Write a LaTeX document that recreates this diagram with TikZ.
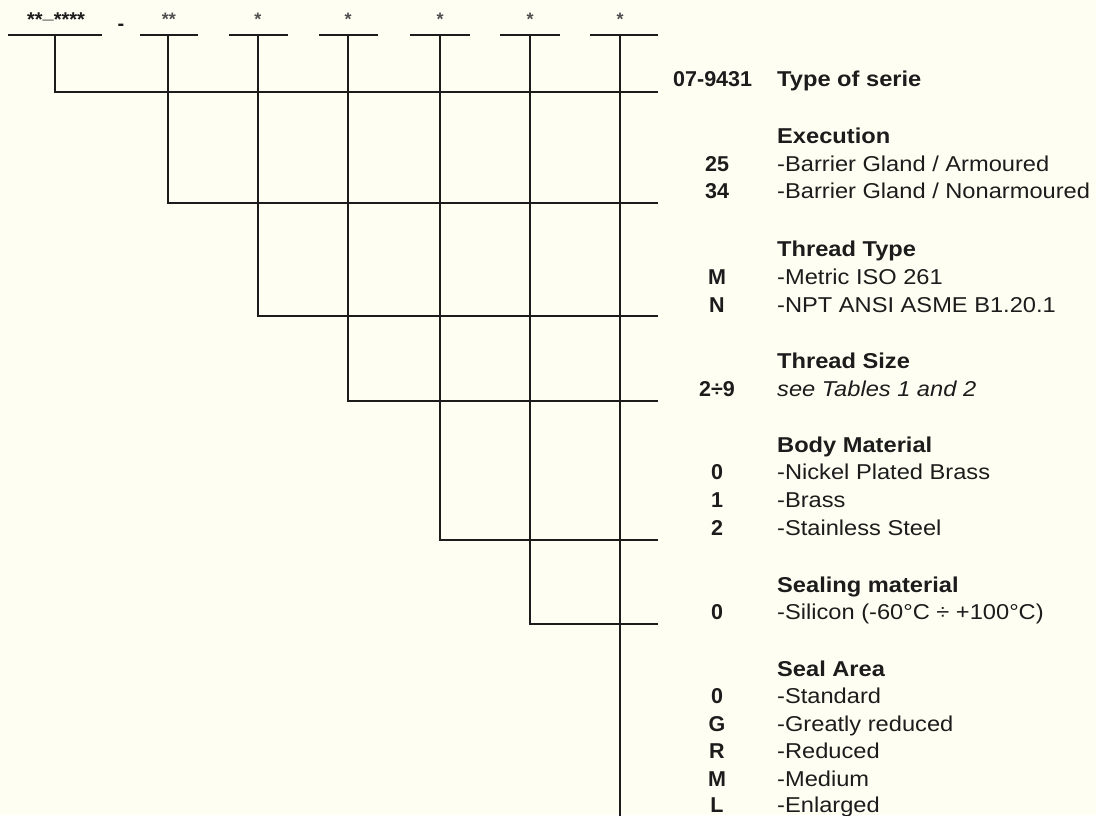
\documentclass[tikz,border=0pt]{standalone}
\usepackage{fontspec}
\setmainfont{Liberation Sans}
\definecolor{bg}{RGB}{254,254,242}
\definecolor{ink}{RGB}{28,28,28}
\definecolor{starink}{RGB}{80,80,80}
\newcommand\sx[1]{\scalebox{1.1}[1]{#1}}
\begin{document}
\begin{tikzpicture}[x=1pt,y=-1pt,
  wire/.style={draw=ink, line width=1.4pt},
  code/.style={anchor=base, inner sep=0pt, text=ink, font=\fontsize{21.5}{26}\selectfont\bfseries},
  head/.style={anchor=base west, inner sep=0pt, text=ink, font=\fontsize{21.5}{26}\selectfont\bfseries},
  desc/.style={anchor=base west, inner sep=0pt, text=ink, font=\fontsize{21.5}{26}\selectfont},
  star/.style={anchor=base, inner sep=0pt, text=starink, font=\fontsize{18}{20}\selectfont\bfseries}]
\clip (0,0) rectangle (1096,815);
\fill[bg] (0,0) rectangle (1096,815);

% top template labels
\node[anchor=base, inner sep=0pt, text=ink, font=\fontsize{20}{22}\selectfont\bfseries] (tpl) at (56,26.5) {**\raisebox{8pt}{\_}****};
\node[anchor=base, inner sep=0pt, text=ink, font=\fontsize{20}{22}\selectfont\bfseries] (dash) at (121,30) {-};
\node[star] (st2) at (169,25) {**};
\node[star] (st3) at (258,25) {*};
\node[star] (st4) at (348,25) {*};
\node[star] (st5) at (440,25) {*};
\node[star] (st6) at (530,25) {*};
\node[star] (st7) at (620,25) {*};

% first bracket
\coordinate (sl1) at (8,35);
\coordinate (sr1) at (102,35);
\coordinate (vt1) at (55,35);
\coordinate (vb1) at (55,92);
\coordinate (he1) at (658,92);
\draw[wire] (sl1) -- (sr1);
\draw[wire] (vt1) -- (vb1) -- (he1);

\foreach \i/\l/\r/\v/\h in {2/140/198/168/203, 3/229/288/258/316, 4/319/378/348/401, 5/410/470/440/540, 6/500/560/530/624}{
  \coordinate (sl\i) at (\l,35);
  \coordinate (sr\i) at (\r,35);
  \coordinate (vt\i) at (\v,35);
  \coordinate (vb\i) at (\v,\h);
  \coordinate (he\i) at (658,\h);
  \draw[wire] (sl\i) -- (sr\i);
  \draw[wire] (vt\i) -- (vb\i) -- (he\i);
}
\coordinate (sl7) at (590,35);
\coordinate (sr7) at (658,35);
\coordinate (vt7) at (620,35);
\coordinate (vb7) at (620,816);
\draw[wire] (sl7) -- (sr7);
\draw[wire] (vt7) -- (vb7);

% Type of serie
\node[anchor=base west, inner sep=0pt, text=ink, font=\fontsize{21.5}{26}\selectfont\bfseries] (c1) at (673,86) {07-9431};
\node[head] (h1) at (777,86) {\sx{Type of serie}};

% Execution
\node[head] (h2) at (777,143) {\sx{Execution}};
\node[code] (c2a) at (717,171) {25};
\node[desc] (d2a) at (777,171) {\sx{-Barrier Gland / Armoured}};
\node[code] (c2b) at (717,198) {34};
\node[desc] (d2b) at (777,198) {\sx{-Barrier Gland / Nonarmoured}};

% Thread Type
\node[head] (h3) at (777,256) {\sx{Thread Type}};
\node[code] (c3a) at (717,284) {M};
\node[desc] (d3a) at (777,284) {\sx{-Metric ISO 261}};
\node[code] (c3b) at (717,312) {N};
\node[desc] (d3b) at (777,312) {\sx{-NPT ANSI ASME B1.20.1}};

% Thread Size
\node[head] (h4) at (777,368) {\sx{Thread Size}};
\node[code] (c4a) at (717,396) {2÷9};
\node[desc] (d4a) at (777,396) {\sx{\itshape see Tables 1 and 2}};

% Body Material
\node[head] (h5) at (777,452) {\sx{Body Material}};
\node[code] (c5a) at (717,479) {0};
\node[desc] (d5a) at (777,479) {\sx{-Nickel Plated Brass}};
\node[code] (c5b) at (717,507) {1};
\node[desc] (d5b) at (777,507) {\sx{-Brass}};
\node[code] (c5c) at (717,535) {2};
\node[desc] (d5c) at (777,535) {\sx{-Stainless Steel}};

% Sealing material
\node[head] (h6) at (777,592) {\sx{Sealing material}};
\node[code] (c6a) at (717,619) {0};
\node[desc] (d6a) at (777,619) {\sx{-Silicon (-60°C ÷ +100°C)}};

% Seal Area
\node[head] (h7) at (777,676) {\sx{Seal Area}};
\node[code] (c7a) at (717,703) {0};
\node[desc] (d7a) at (777,703) {\sx{-Standard}};
\node[code] (c7b) at (717,731) {G};
\node[desc] (d7b) at (777,731) {\sx{-Greatly reduced}};
\node[code] (c7c) at (717,758) {R};
\node[desc] (d7c) at (777,758) {\sx{-Reduced}};
\node[code] (c7d) at (717,786) {M};
\node[desc] (d7d) at (777,786) {\sx{-Medium}};
\node[code] (c7e) at (717,812) {L};
\node[desc] (d7e) at (777,812) {\sx{-Enlarged}};
\end{tikzpicture}
\end{document}
